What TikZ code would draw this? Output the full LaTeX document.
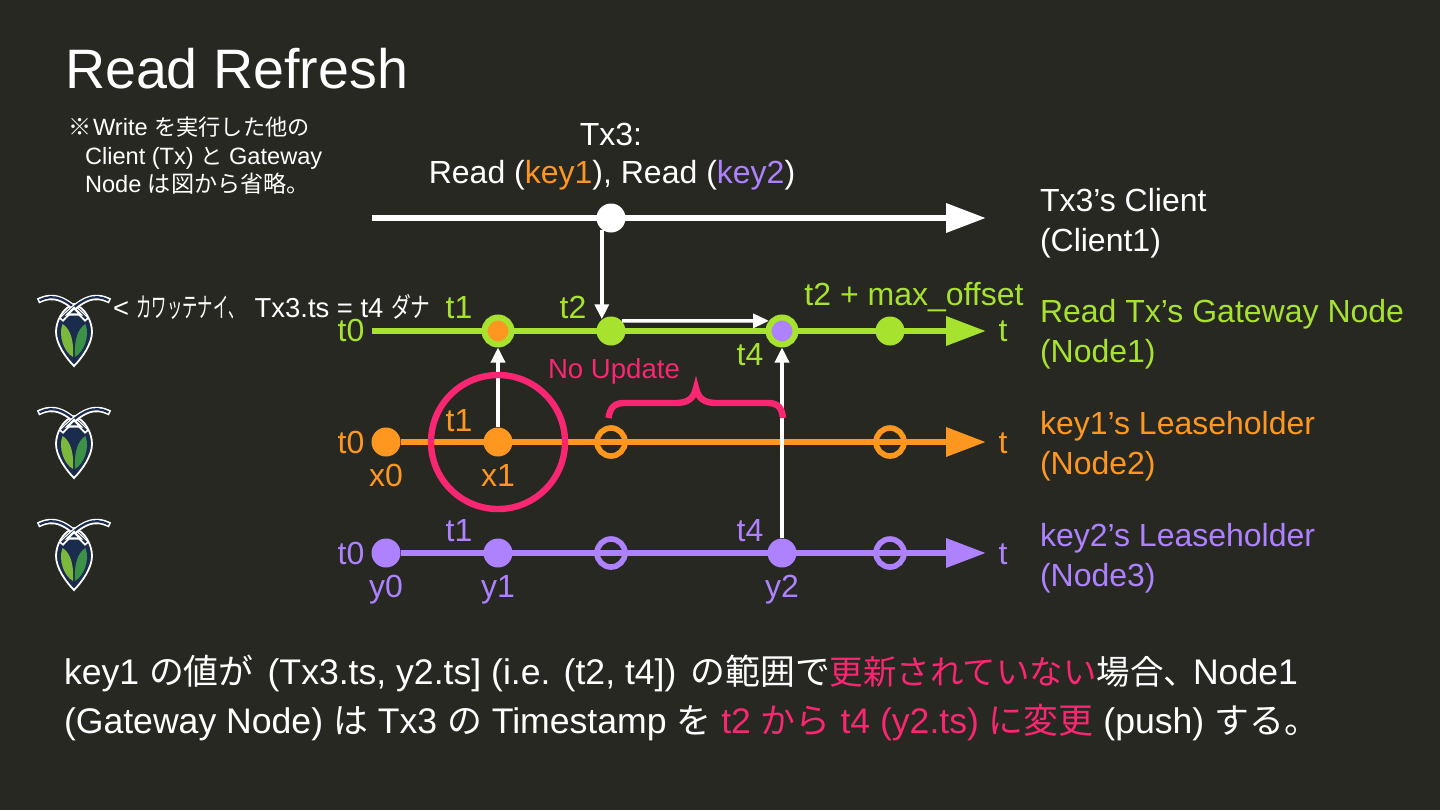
\documentclass[tikz,border=0pt]{standalone}
\usepackage{fontspec}
\setmainfont{Liberation Sans}
\newfontfamily\cjk[Scale=0.94]{Noto Sans CJK JP}
\newfontfamily\cjkw[Scale=0.98]{Noto Sans CJK JP}
\newfontfamily\cjkn[FakeStretch=0.56]{Noto Sans CJK JP}
\newfontfamily\cjkm[FakeStretch=0.72]{Noto Sans CJK JP}
\usetikzlibrary{arrows.meta}
\definecolor{bgc}{HTML}{272822}
\definecolor{grn}{HTML}{A6E22E}
\definecolor{org}{HTML}{FD971F}
\definecolor{pur}{HTML}{AE81FF}
\definecolor{pnk}{HTML}{F92672}
\definecolor{navy}{HTML}{1A2B4D}
\definecolor{leafa}{HTML}{7CB83C}
\definecolor{leafb}{HTML}{3B9145}
\newcommand{\J}[1]{{\cjk #1}}
\newcommand{\JW}[1]{{\cjkw #1}}
\newcommand{\JN}[1]{{\cjkn #1}}
\newcommand{\JM}[1]{{\cjkm #1}}
\newcommand{\fsz}[1]{\fontsize{#1}{#1}\selectfont}
\newcommand{\bugicon}[1]{%
\begin{scope}[shift={(74,#1)}]
 \draw[white,line width=.9pt,fill=navy] (0,-26) .. controls (-12,-22) and (-18,-8) .. (-18,2) .. controls (-18,14) and (-8,28) .. (0,36) .. controls (8,28) and (18,14) .. (18,2) .. controls (18,-8) and (12,-22) .. (0,-26) -- cycle;
 \fill[leafa] (-11.5,-6) .. controls (-3,-1) and (0,12) .. (-1,27) .. controls (-10,22) and (-16,6) .. (-11.5,-6) -- cycle;
 \fill[leafb] (11.5,-6) .. controls (3,-1) and (0,12) .. (1,27) .. controls (10,22) and (16,6) .. (11.5,-6) -- cycle;
 \foreach \s in {-1,1}{
  \draw[white,line width=2.7pt] (\s*36,-29) .. controls (\s*20,-37) and (\s*8,-32) .. (-\s*13,-10);
  \draw[navy,line width=1.1pt] (\s*34.5,-29.6) .. controls (\s*20,-37) and (\s*8,-32) .. (-\s*12,-11.5);
 }
 \draw[white,line width=1.1pt,fill=navy] (-6.5,-15.5) -- (6.5,-15.5) -- (0,-22) -- cycle;
\end{scope}}
\tikzset{
 x=.5pt,y=-.5pt,
 every node/.append style={text=white},
 lbl/.style={anchor=base,inner sep=0,outer sep=0,font=\fsz{16}},
 lbll/.style={anchor=base west,inner sep=0,outer sep=0,font=\fsz{16}},
 axis/.style={line width=3.3pt,-{Triangle[length=20pt,width=14pt]}},
 dotf/.style={circle,minimum size=14.5pt,inner sep=0,fill=#1},
 doth/.style={circle,minimum size=14pt,inner sep=0,draw=#1,line width=2.8pt},
 dotr/.style={circle,minimum size=13.5pt,inner sep=0,draw=grn,fill=#1,line width=3pt},
 msg/.style={white,line width=1.7pt,-{Triangle[length=7.5pt,width=7pt]}},
 msgb/.style={white,line width=1.7pt,-{Triangle[length=8pt,width=7pt]}},
 pinkline/.style={draw=pnk,line width=3.2pt}
}
\begin{document}
\begin{tikzpicture}
\useasboundingbox[fill=bgc] (0,0) rectangle (1440,810);
% axis ends
\coordinate (ws) at (372,218); \coordinate (we) at (986,218);
\coordinate (gs) at (372,331); \coordinate (ge) at (986,331);
\coordinate (oe) at (986,442);
\coordinate (pe) at (986,553);
\coordinate (bl) at (608.5,418); \coordinate (bm) at (696,388); \coordinate (br) at (783,418);
% title and notes
\node[lbll,font=\fsz{27.8}] (title) at (65,88) {Read Refresh};
\node[lbll,font=\fsz{11.8}] (n1) at (68,135) {\JW{※}\hspace{1pt}Write \J{を実行した他の}};
\node[lbll,font=\fsz{11.8}] (n2) at (85,164) {Client (Tx) \J{と} Gateway};
\node[lbll,font=\fsz{11.8}] (n3) at (85,192) {Node \JW{は図から省略。}};
\node[lbl] (tx3) at (611,145) {Tx3:};
\node[lbl] (rd) at (612,183) {Read (\textcolor{org}{key1}), Read (\textcolor{pur}{key2})};
% axes
\draw[axis,white] (ws) -- (we);
\draw[axis,grn] (gs) -- (ge);
\node[dotf=org] (x0) at (386,442) {};
\node[dotf=pur] (y0) at (386,553) {};
\draw[axis,org] (x0) -- (oe);
\draw[axis,pur] (y0) -- (pe);
% events
\node[dotf=white] (w) at (611,218) {};
\node[dotr=org] (g1) at (498,331) {};
\node[dotf=grn] (g2) at (611,331) {};
\node[dotr=pur] (g4) at (782,331) {};
\node[dotf=grn] (g5) at (890,331) {};
\node[dotf=org] (x1) at (498,442) {};
\node[doth=org] (o2) at (611,442) {};
\node[doth=org] (o3) at (890,442) {};
\node[dotf=pur] (y1) at (498,553) {};
\node[doth=pur] (p2) at (611,553) {};
\node[dotf=pur] (y2) at (782,553) {};
\node[doth=pur] (p3) at (890,553) {};
% messages
\draw[msg] (w.-128) -- (g2.128);
\draw[msgb] (g2.43.6) -- (g4.142.7);
\draw[msg] (x1) -- (g1);
\draw[msg] (y2) -- (g4);
% circle and brace
\node[circle,pinkline,minimum size=33.5pt*2,inner sep=0] (big) at (498,442) {};
\draw[pinkline] (bl) .. controls (610,408) and (614,403) .. (624,403) -- (676,403) .. controls (688,403) and (694,398) .. (bm) .. controls (698,398) and (704,403) .. (716,403) -- (768,403) .. controls (778,403) and (782,408) .. (br);
% labels
\node[lbl,text=pnk,font=\fsz{13.8}] (nu) at (614,378) {No Update};
\node[lbl,text=grn] (l1) at (351,341) {t0};
\node[lbl,text=grn] (l2) at (459,318) {t1};
\node[lbl,text=grn] (l3) at (573,318) {t2};
\node[lbl,text=grn] (l4) at (750,365) {t4};
\node[lbl,text=grn] (l5) at (914,305) {t2 + max\_offset};
\node[lbl,text=grn] (l6) at (1003,341) {t};
\node[lbl,text=org] (l7) at (351,453) {t0};
\node[lbl,text=org] (l8) at (459,431) {t1};
\node[lbl,text=org] (l9) at (386,486) {x0};
\node[lbl,text=org] (l10) at (498,486) {x1};
\node[lbl,text=org] (l11) at (1003,453) {t};
\node[lbl,text=pur] (l12) at (351,564) {t0};
\node[lbl,text=pur] (l13) at (459,541) {t1};
\node[lbl,text=pur] (l14) at (750,541) {t4};
\node[lbl,text=pur] (l15) at (386,597) {y0};
\node[lbl,text=pur] (l16) at (498,597) {y1};
\node[lbl,text=pur] (l17) at (782,597) {y2};
\node[lbl,text=pur] (l18) at (1003,564) {t};
\node[lbll] (r1) at (1040,211) {Tx3’s Client};
\node[lbll] (r2) at (1040,251) {(Client1)};
\node[lbll,text=grn] (r3) at (1040,322) {Read Tx’s Gateway Node};
\node[lbll,text=grn] (r4) at (1040,362) {(Node1)};
\node[lbll,text=org] (r5) at (1040,434) {key1’s Leaseholder};
\node[lbll,text=org] (r6) at (1040,474) {(Node2)};
\node[lbll,text=pur] (r7) at (1040,546) {key2’s Leaseholder};
\node[lbll,text=pur] (r8) at (1040,586) {(Node3)};
\node[lbll,font=\fsz{13.7}] (say) at (113,317) {< \JN{カワッテナイ、}\hspace{5.5pt}Tx3.ts = t4 \JM{ダナ}};
% logos
\bugicon{330}
\bugicon{442}
\bugicon{554}
% bottom text
\node[lbll,font=\fsz{17.8}] (b1) at (64,684) {key1 \JW{の値が}\hspace{2pt} (Tx3.ts, y2.ts] (i.e. (t2, t4])\hspace{2pt} \JW{の範囲で}\textcolor{pnk}{\J{更新されていない}}\J{場合、}\hspace{-2pt}Node1};
\node[lbll,font=\fsz{17.8}] (b2) at (64,733) {(Gateway Node) \JW{は} Tx3 \JW{の} Timestamp \JW{を} \textcolor{pnk}{t2 \JW{から} t4 (y2.ts) \JW{に変更}} (push) \JW{する。}};
\end{tikzpicture}
\end{document}
